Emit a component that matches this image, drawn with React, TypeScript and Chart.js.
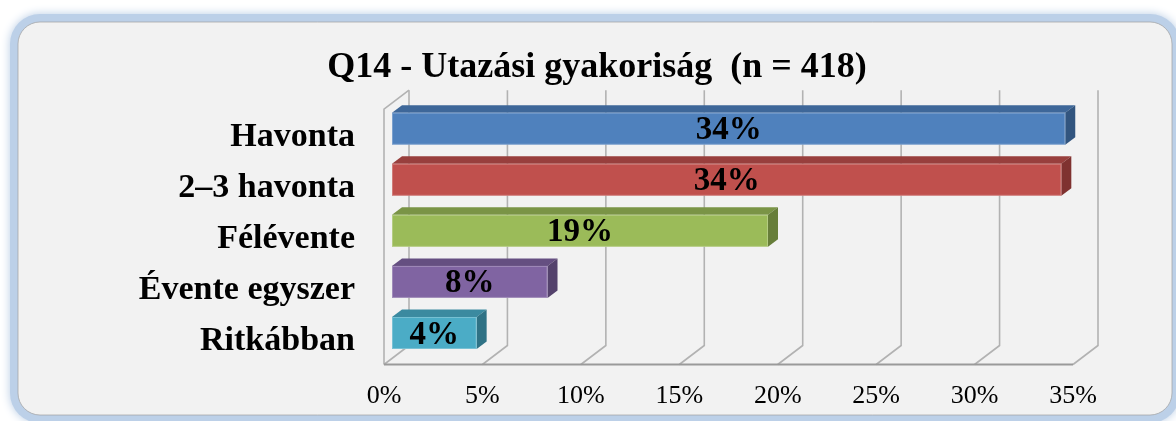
import { useEffect, useRef } from 'react';
import { Chart, registerables } from 'chart.js';

Chart.register(...registerables);

const categories = ['Havonta', '2–3 havonta', 'Félévente', 'Évente egyszer', 'Ritkábban'];
const values = [34.2, 34.0, 19.1, 7.9, 4.3];
const valueLabels = ['34%', '34%', '19%', '8%', '4%'];
const xTickValues = [0, 5, 10, 15, 20, 25, 30, 35];
const titleText = 'Q14 - Utazási gyakoriság  (n = 418)';

const frontColors = ['#4f81bd', '#c0504d', '#9bbb59', '#8064a2', '#4bacc6'];
const topColors = ['#3e6799', '#983f3d', '#7a9446', '#654f81', '#3b8aa0'];
const sideColors = ['#32557f', '#7f3230', '#677e3a', '#54426c', '#2f7285'];

const FONT = "'Liberation Serif', 'Times New Roman', serif";
const DX = 25;
const DY = 19;
const BAR_OX = 8;
const BAR_OY = 6;
const BAR_DX = 10;
const BAR_DY = 7.5;

function roundRectPath(ctx: CanvasRenderingContext2D, x: number, y: number, w: number, h: number, r: number) {
  ctx.beginPath();
  ctx.moveTo(x + r, y);
  ctx.lineTo(x + w - r, y);
  ctx.arcTo(x + w, y, x + w, y + r, r);
  ctx.lineTo(x + w, y + h - r);
  ctx.arcTo(x + w, y + h, x + w - r, y + h, r);
  ctx.lineTo(x + r, y + h);
  ctx.arcTo(x, y + h, x, y + h - r, r);
  ctx.lineTo(x, y + r);
  ctx.arcTo(x, y, x + r, y, r);
  ctx.closePath();
}

const panelPlugin = {
  id: 'panel',
  beforeDraw(chart: any) {
    const ctx = chart.ctx as CanvasRenderingContext2D;
    const px = 18;
    const py = 22;
    const pw = 1154;
    const ph = 393;
    const pr = 22;
    ctx.save();
    ctx.fillStyle = '#ffffff';
    ctx.fillRect(0, 0, chart.width, chart.height);
    // glow band
    ctx.shadowColor = 'rgba(184,204,228,1)';
    ctx.shadowBlur = 10;
    ctx.fillStyle = '#bcd0e8';
    roundRectPath(ctx, px - 8, py - 8, pw + 16, ph + 16, pr + 8);
    ctx.fill();
    ctx.shadowColor = 'transparent';
    ctx.shadowBlur = 0;
    // panel
    ctx.fillStyle = '#f2f2f2';
    roundRectPath(ctx, px, py, pw, ph, pr);
    ctx.fill();
    ctx.strokeStyle = 'rgba(160,160,160,0.7)';
    ctx.lineWidth = 1;
    ctx.stroke();
    ctx.restore();
  },
};

const wallsPlugin = {
  id: 'walls',
  beforeDatasetsDraw(chart: any) {
    const ctx = chart.ctx as CanvasRenderingContext2D;
    const { left, right, top, bottom } = chart.chartArea;
    const xs = chart.scales.x;
    ctx.save();
    ctx.strokeStyle = '#b2b2b2';
    ctx.lineWidth = 1.6;
    xTickValues.forEach((v) => {
      const px = xs.getPixelForValue(v);
      ctx.beginPath();
      ctx.moveTo(px + DX, top - DY);
      ctx.lineTo(px + DX, bottom - DY);
      ctx.lineTo(px, bottom);
      ctx.stroke();
    });
    ctx.beginPath();
    ctx.moveTo(left + DX, top - DY);
    ctx.lineTo(left, top);
    ctx.lineTo(left, bottom);
    ctx.stroke();
    ctx.strokeStyle = '#9a9a9a';
    ctx.lineWidth = 2;
    ctx.beginPath();
    ctx.moveTo(left, bottom);
    ctx.lineTo(right, bottom);
    ctx.stroke();
    ctx.restore();
  },
};

const bars3dPlugin = {
  id: 'bars3d',
  afterDatasetsDraw(chart: any) {
    const ctx = chart.ctx as CanvasRenderingContext2D;
    const meta = chart.getDatasetMeta(0);
    ctx.save();
    meta.data.forEach((el: any, i: number) => {
      const p = el.getProps(['x', 'y', 'base', 'height'], true);
      const x0 = p.base + BAR_OX;
      const x1 = p.x + BAR_OX;
      const y0 = p.y - p.height / 2 - BAR_OY;
      const y1 = p.y + p.height / 2 - BAR_OY;
      ctx.fillStyle = topColors[i];
      ctx.beginPath();
      ctx.moveTo(x0, y0);
      ctx.lineTo(x0 + BAR_DX, y0 - BAR_DY);
      ctx.lineTo(x1 + BAR_DX, y0 - BAR_DY);
      ctx.lineTo(x1, y0);
      ctx.closePath();
      ctx.fill();
      ctx.fillStyle = sideColors[i];
      ctx.beginPath();
      ctx.moveTo(x1, y0);
      ctx.lineTo(x1 + BAR_DX, y0 - BAR_DY);
      ctx.lineTo(x1 + BAR_DX, y1 - BAR_DY);
      ctx.lineTo(x1, y1);
      ctx.closePath();
      ctx.fill();
      ctx.fillStyle = frontColors[i];
      ctx.fillRect(x0, y0, x1 - x0, y1 - y0);
      ctx.strokeStyle = 'rgba(255,255,255,0.25)';
      ctx.lineWidth = 1;
      ctx.strokeRect(x0 + 0.5, y0 + 0.5, x1 - x0 - 1, y1 - y0 - 1);
      ctx.fillStyle = '#000000';
      ctx.font = `bold 33px ${FONT}`;
      ctx.textAlign = 'center';
      ctx.textBaseline = 'middle';
      ctx.fillText(valueLabels[i], (x0 + x1) / 2, (y0 + y1) / 2 + 2);
    });
    ctx.restore();
  },
};

export default function App() {
  const ref = useRef<HTMLCanvasElement | null>(null);
  useEffect(() => {
    if (!ref.current) return;
    const chart = new Chart(ref.current, {
      type: 'bar',
      data: {
        labels: categories,
        datasets: [
          {
            data: values,
            backgroundColor: 'rgba(0,0,0,0)',
            borderWidth: 0,
            barPercentage: 0.627,
            categoryPercentage: 1,
          },
        ],
      },
      options: {
        indexAxis: 'y',
        animation: false,
        responsive: false,
        devicePixelRatio: 1,
        layout: { padding: { left: 121, right: 103, top: 20, bottom: 0 } },
        plugins: {
          legend: { display: false },
          tooltip: { enabled: false },
          title: {
            display: true,
            text: titleText,
            color: '#000000',
            font: { family: FONT, size: 36, weight: 'bold', lineHeight: 1.2 },
            padding: { top: 26, bottom: 20 },
          },
        },
        scales: {
          x: {
            min: 0,
            max: 35,
            afterBuildTicks: (s: any) => {
              s.ticks = xTickValues.map((v) => ({ value: v }));
            },
            ticks: {
              callback: (v: any) => `${v}%`,
              color: '#000000',
              font: { family: FONT, size: 26 },
              padding: 16,
              maxRotation: 0,
            },
            grid: { display: false, drawTicks: false },
            border: { display: false },
            afterFit: (s: any) => {
              s.height = 56.5;
            },
          },
          y: {
            ticks: {
              color: '#000000',
              font: { family: FONT, size: 34, weight: 'bold' },
              padding: 29,
              labelOffset: 2,
            },
            grid: { display: false, drawTicks: false },
            border: { display: false },
            afterFit: (s: any) => {
              s.width = 263;
            },
          },
        },
      } as any,
      plugins: [panelPlugin, wallsPlugin, bars3dPlugin],
    });
    return () => chart.destroy();
  }, []);
  return (
    <div style={{ position: 'fixed', left: 0, top: 0, width: 1176, height: 421 }}>
      <canvas ref={ref} width={1176} height={421} style={{ display: 'block' }} />
    </div>
  );
}
